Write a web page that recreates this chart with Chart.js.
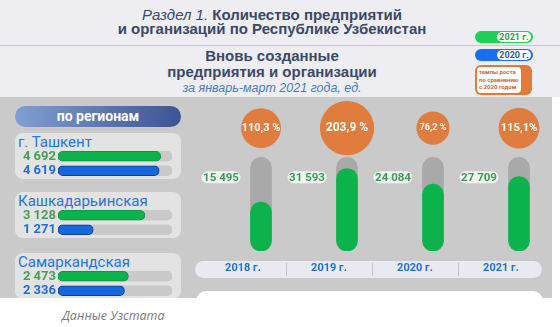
<!DOCTYPE html>
<html>
<head>
<meta charset="utf-8">
<script src="https://cdn.jsdelivr.net/npm/chart.js@4.4.1/dist/chart.umd.min.js"></script>
<style>
    body { margin: 0; width: 560px; height: 327px; overflow: hidden; background: #ffffff; font-family: Roboto, sans-serif; position: relative; }
    #top { position: absolute; left: 0; top: 0; width: 560px; height: 97px; background: #ededf2; }
    .title { position: absolute; left: -8px; width: 560px; text-align: center; font-family: "Liberation Sans", Arial, sans-serif; color: #3b4968; font-weight: bold; font-size: 15px; line-height: 16px; white-space: nowrap; }
    .title i { font-weight: normal; }
    .sub { position: absolute; left: -8px; width: 560px; text-align: center; font-family: "Liberation Sans", Arial, sans-serif; color: #4d7bbf; font-style: italic; font-size: 12.5px; line-height: 14px; }
    #sep { position: absolute; left: 0; top: 45px; width: 560px; height: 1px; background: #c8c8d2; }
    .lg { position: absolute; left: 475px; width: 58px; height: 12px; border-radius: 6px; }
    .lg span { position: absolute; right: 2px; top: 1px; width: 34px; height: 10px; border-radius: 5px; background: #ffffff; font-weight: bold; font-size: 9px; line-height: 10px; text-align: center; }
    #lgRate { position: absolute; left: 475px; top: 65px; width: 57px; height: 30px; border-radius: 6px; background: #e07b3c; }
    #lgRate div { position: absolute; left: 2px; top: 2px; width: 42px; height: 24px; padding: 1px 0 1px 2px; border-radius: 4px; background: #ffffff; color: #c9673a; font-weight: bold; font-size: 6px; line-height: 7.6px; }
    #gray { position: absolute; left: 0; top: 97px; width: 552px; height: 201px; background: #cacaca; overflow: hidden; }
    #regHead { position: absolute; left: 15px; top: 9px; width: 166px; height: 21px; border-radius: 11px; background: linear-gradient(to right, #7f9fd2, #3d5396); color: #ffffff; font-weight: bold; font-size: 14px; line-height: 21px; text-align: center; }
    .card { position: absolute; left: 15px; width: 166px; height: 46px; border-radius: 8px; background: #e3e3e3; }
    .card .name { position: absolute; left: 3px; top: 0; font-size: 15px; line-height: 18px; color: #2476dc; white-space: nowrap; }
    .card canvas { position: absolute; left: 0; top: 6px; }
    #main { position: absolute; left: 190px; top: -24px; }
    #foot { position: absolute; left: 196px; top: 194px; width: 347px; height: 20px; border-radius: 10px 10px 0 0; background: #ffffff; }
    #src { position: absolute; left: 62px; top: 307px; font-family: "Open Sans", sans-serif; font-style: italic; font-size: 12.5px; color: #7a7a7a; }
</style>
</head>
<body>
<div id="top">
    <div class="title" style="top: 7px;"><i>Раздел 1.</i> Количество предприятий</div>
    <div class="title" style="top: 21px;">и организаций по Республике Узбекистан</div>
    <div id="sep"></div>
    <div class="title" style="top: 48px;">Вновь созданные</div>
    <div class="title" style="top: 64px;">предприятия и организации</div>
    <div class="sub" style="top: 81px;">за январь-март 2021 года, ед.</div>
    <div class="lg" style="top: 31px; background: #20cf58;"><span style="color: #2f9a4a;">2021 г.</span></div>
    <div class="lg" style="top: 49px; background: #1b6ef0;"><span style="color: #2a5ab0;">2020 г.</span></div>
    <div id="lgRate"><div>темпы роста<br>по сравнению<br>с 2020 годом</div></div>
</div>
<div id="gray">
    <div id="regHead">по регионам</div>
    <div class="card" style="top: 36px;"><div class="name">г. Ташкент</div><canvas id="reg0" width="160" height="49"></canvas></div>
    <div class="card" style="top: 95px;"><div class="name">Кашкадарьинская</div><canvas id="reg1" width="160" height="49"></canvas></div>
    <div class="card" style="top: 156px;"><div class="name">Самаркандская</div><canvas id="reg2" width="160" height="49"></canvas></div>
    <canvas id="main" width="400" height="236"></canvas>
    <div id="foot"></div>
</div>
<div id="src">Данные Узстата</div>

<script>
"use strict";

// Data
var years = ["2018 г.", "2019 г.", "2020 г.", "2021 г."];
var created = [15495, 31593, 24084, 27709];
var growth = [110.3, 203.9, 76.2, 115.1];
var growthLabels = ["110,3 %", "203,9 %", "76,2 %", "115,1%"];

var regions = ["г. Ташкент", "Кашкадарьинская", "Самаркандская"];
var regions2021 = [4692, 3128, 2473];
var regions2020 = [4619, 1271, 2336];
var regionsMax = [5200, 4100, 4000];

// Colors
var green = "#0cb34c";
var blue = "#1467dc";
var numGreen = "#46a055";
var numBlue = "#1c6fdc";
var orange = "#e07d3e";

var trackTop = 37000;
var axisMin = -8000;
var bubbleLevel = 51000;

function formatNumber(v) {
    return String(v).replace(/\B(?=(\d{3})+(?!\d))/g, " ");
}

function roundRect(ctx, x, y, w, h, r) {
    ctx.beginPath();
    ctx.moveTo(x + r, y);
    ctx.arcTo(x + w, y, x + w, y + h, r);
    ctx.arcTo(x + w, y + h, x, y + h, r);
    ctx.arcTo(x, y + h, x, y, r);
    ctx.arcTo(x, y, x + w, y, r);
    ctx.closePath();
}

// Year strip behind the x axis labels
var yearStrip = {
    id: "yearStrip",
    beforeDraw: function(chart) {
        var ctx = chart.ctx;
        var area = chart.chartArea;
        var xs = chart.scales.x;
        var off = xs.options.ticks.labelOffset;
        var left = area.left - 23;
        var right = area.right - 20;
        var top = area.bottom + 10;

        ctx.save();
        ctx.fillStyle = "#e9e9f1";
        roundRect(ctx, left, top, right - left, 17, 8.5);
        ctx.fill();

        // Separators between years
        ctx.strokeStyle = "#c3c3cc";
        ctx.lineWidth = 1;
        for (let i = 0; i < years.length - 1; i++) {
            var sx = Math.round((xs.getPixelForTick(i) + xs.getPixelForTick(i + 1)) / 2 + off) + 0.5;
            ctx.beginPath();
            ctx.moveTo(sx, top + 2);
            ctx.lineTo(sx, top + 15);
            ctx.stroke();
        }
        ctx.restore();
    }
};

// Value pills and percent labels
var valueLabels = {
    id: "valueLabels",
    afterDatasetsDraw: function(chart) {
        var ctx = chart.ctx;
        var bars = chart.getDatasetMeta(0).data;
        var bubbles = chart.getDatasetMeta(2).data;
        var ly = chart.scales.y.getPixelForValue(trackTop) + 20;

        ctx.save();
        ctx.textAlign = "center";
        ctx.textBaseline = "middle";

        for (let i = 0; i < bars.length; i++) {
            var cx = bars[i].x - 40;
            ctx.fillStyle = "#f1f3f1";
            roundRect(ctx, cx - 19.5, ly - 6, 39, 12, 6);
            ctx.fill();
            ctx.fillStyle = "#3d9a55";
            ctx.font = "bold 11.5px Roboto";
            ctx.fillText(formatNumber(created[i]), cx, ly + 0.5);
        }

        for (let i = 0; i < bubbles.length; i++) {
            var b = bubbles[i];
            var size = Math.min(12, b.options.radius * 0.55);
            ctx.fillStyle = "#ffffff";
            ctx.font = "bold " + size + "px Roboto";
            ctx.fillText(growthLabels[i], b.x, b.y);
        }
        ctx.restore();
    }
};

function createMainChart() {
    var bubbleData = [];
    for (let i = 0; i < years.length; i++) {
        bubbleData.push({ x: years[i], y: bubbleLevel, r: 1.9 * Math.sqrt(growth[i]) });
    }

    var config = {
        type: "bar",
        data: {
            labels: years,
            datasets: [
                {
                    data: created,
                    backgroundColor: green,
                    base: axisMin,
                    barThickness: 21,
                    borderRadius: 10.5,
                    borderSkipped: false,
                    grouped: false
                },
                {
                    data: years.map(function() { return trackTop; }),
                    backgroundColor: "#a9a9a9",
                    base: axisMin,
                    barThickness: 21,
                    borderRadius: 10.5,
                    borderSkipped: false,
                    grouped: false
                },
                {
                    type: "bubble",
                    data: bubbleData,
                    backgroundColor: orange,
                    borderWidth: 0,
                    clip: false
                }
            ]
        },
        options: {
            responsive: false,
            animation: false,
            // bubbles ask for ~27px of room on every side, so padding is set above that
            layout: { padding: 28 },
            plugins: { legend: { display: false }, tooltip: { enabled: false } },
            scales: {
                x: {
                    type: "category",
                    offset: true,
                    grid: { display: false, drawTicks: false },
                    border: { display: false },
                    ticks: { color: "#1e6fd8", font: { family: "Roboto", weight: "bold", size: 11 }, labelOffset: -18, padding: 11 },
                    afterFit: function(scale) { scale.height = 30; }
                },
                y: {
                    display: false,
                    min: axisMin,
                    max: 64000
                }
            }
        },
        plugins: [yearStrip, valueLabels]
    };

    new Chart(document.getElementById("main").getContext("2d"), config);
}

function createRegionChart(i) {
    var values = [regions2021[i], regions2020[i]];

    var config = {
        type: "bar",
        data: {
            labels: ["2021", "2020"],
            datasets: [
                {
                    data: values,
                    backgroundColor: [green, blue],
                    borderColor: ["#0a9a40", "#0b3f9c"],
                    borderWidth: 1,
                    barThickness: 10,
                    borderRadius: 5,
                    borderSkipped: false,
                    grouped: false
                },
                {
                    data: [regionsMax[i], regionsMax[i]],
                    backgroundColor: "#c9c9c9",
                    barThickness: 10,
                    borderRadius: 5,
                    borderSkipped: false,
                    grouped: false
                }
            ]
        },
        options: {
            indexAxis: "y",
            responsive: false,
            animation: false,
            layout: { padding: { top: 10, bottom: 10, right: 3 } },
            plugins: { legend: { display: false }, tooltip: { enabled: false } },
            scales: {
                x: { display: false, min: 0, max: regionsMax[i] },
                y: {
                    grid: { display: false, drawTicks: false },
                    border: { display: false },
                    ticks: {
                        padding: 2,
                        autoSkip: false,
                        font: { family: "Roboto", weight: "bold", size: 13, lineHeight: 1 },
                        color: function(c) { return c.index === 0 ? numGreen : numBlue; },
                        callback: function(v, idx) { return formatNumber(values[idx]); }
                    },
                    afterFit: function(scale) { scale.width = 43; }
                }
            }
        }
    };

    new Chart(document.getElementById("reg" + i).getContext("2d"), config);
}

window.onload = function() {
    createMainChart();
    for (let i = 0; i < regions.length; i++) {
        createRegionChart(i);
    }
};
</script>
</body>
</html>
